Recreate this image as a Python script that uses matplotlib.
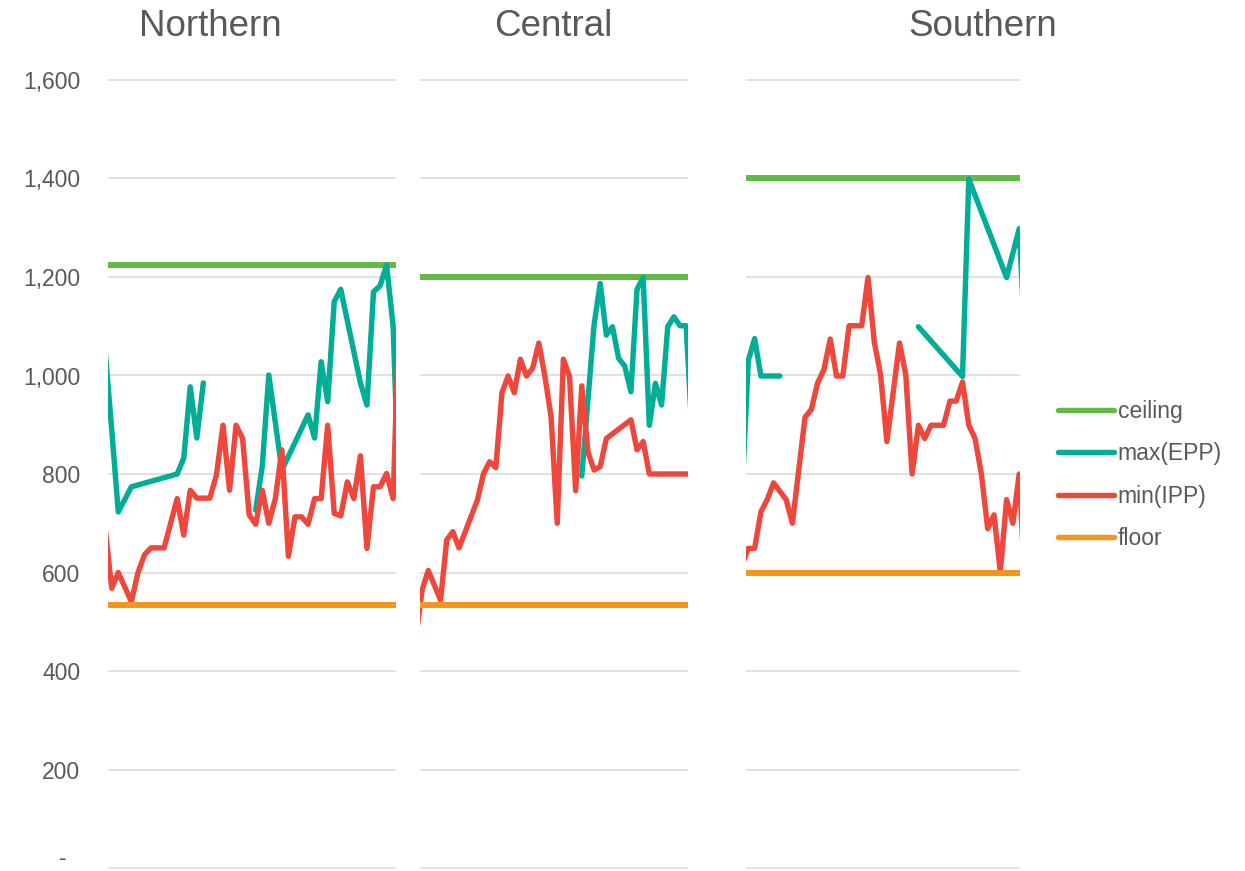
import matplotlib
matplotlib.use('Agg')
import matplotlib.pyplot as plt
import numpy as np
from matplotlib.lines import Line2D

plt.rcParams['font.family'] = ['Liberation Sans', 'DejaVu Sans']

nan = np.nan

# ---- data (x = day index within each region) ----
regions = ['Northern', 'Central', 'Southern']

ceiling = [1225, 1200, 1400]
floor = [533, 533, 600]

n_red_x = [-1, 0, 1, 3, 4, 5, 6, 8, 10, 11, 12, 13, 15, 16, 17, 18, 19, 20, 21, 22, 23,
           24, 25, 26, 27, 28, 29, 30, 31, 32, 33, 34, 35, 36, 37, 38, 39, 40, 41, 42, 43, 44]
n_red = [690, 568, 600, 541, 599, 636, 650, 650, 750, 676, 767, 751, 751, 798, 899, 767, 899,
         872, 717, 698, 767, 700, 750, 849, 633, 713, 713, 698, 750, 750, 899, 720, 715, 784,
         750, 837, 649, 774, 774, 801, 750, 1160]
n_teal_x = [-1, 0, 1, 3, 10, 11, 12, 13, 14, 18, 22, 23, 24, 26, 30, 31, 32, 33, 34, 35, 38,
            39, 40, 41, 42, 43, 44]
n_teal = [1050, 890, 723, 774, 800, 832, 977, 873, 985, nan, 727, 815, 1001, 808, 920, 873,
          1028, 947, 1150, 1175, 985, 940, 1170, 1182, 1224, 1100, 715]

c_red_x = [-2, -1, 0, 2, 3, 4, 5, 8, 9, 10, 11, 12, 13, 14, 15, 16, 17, 18, 19, 20, 21, 22,
           23, 24, 25, 26, 27, 28, 29, 33, 34, 35, 36, 43]
c_red = [470, 565, 604, 544, 666, 683, 650, 747, 801, 825, 813, 965, 999, 965, 1033, 999,
         1015, 1066, 998, 916, 700, 1033, 998, 766, 979, 845, 808, 815, 872, 910, 849, 866,
         800, 800]
c_teal_x = [25, 27, 28, 29, 30, 31, 32, 33, 34, 35, 36, 37, 38, 39, 40, 41, 42, 43]
c_teal = [796, 1103, 1187, 1082, 1099, 1035, 1019, 967, 1175, 1199, 899, 984, 940, 1099,
          1119, 1101, 1101, 870]

s_red_x = [-1, 0, 1, 2, 3, 4, 6, 7, 8, 9, 10, 11, 12, 13, 14, 15, 16, 18, 19, 20, 21, 22,
           24, 25, 26, 27, 28, 29, 31, 32, 33, 34, 35, 36, 37, 38, 39, 40, 41, 42, 43, 44]
s_red = [615, 649, 649, 723, 748, 782, 748, 700, 808, 915, 931, 985, 1012, 1074, 999, 999,
         1101, 1101, 1199, 1068, 1001, 866, 1066, 1001, 800, 899, 872, 899, 899, 948, 948,
         987, 899, 872, 800, 689, 717, 602, 748, 700, 800, 550]
s_teal_x = [-1, 0, 1, 2, 5, 16, 27, 34, 35, 41, 43, 44]
s_teal = [760, 1031, 1075, 999, 999, nan, 1099, 998, 1399, 1199, 1298, 1050]

red_x = [n_red_x, c_red_x, s_red_x]
red_y = [n_red, c_red, s_red]
teal_x = [n_teal_x, c_teal_x, s_teal_x]
teal_y = [n_teal, c_teal, s_teal]

xlims = [(-0.57, 43.44), (-1.35, 42.3), (-0.37, 43.13)]

yticks = [0, 200, 400, 600, 800, 1000, 1200, 1400, 1600]
ytick_labels = ['', '200', '400', '600', '800', '1,000', '1,200', '1,400', '1,600']
zero_label = '-'

series_names = ['ceiling', 'max(EPP)', 'min(IPP)', 'floor']
c_ceil = '#62b946'
c_teal_col = '#00ad96'
c_red_col = '#ef473b'
c_floor = '#f7941d'
grey = '#595959'

# ---- layout (pixels) ----
W, H = 1245, 871
panels_px = [(108, 396), (420, 688), (746, 1020)]
title_x = [210, 553, 983]
ylo, yhi = -6, 1610
k = (868 - 80) / 1600.0
bot_px = 868 + k * (0 - ylo)
top_px = 868 - k * yhi

fig = plt.figure(figsize=(W / 100, H / 100), dpi=100)

axes = []
for i in range(3):
    x0, x1 = panels_px[i]
    ax = fig.add_axes([x0 / W, (H - bot_px) / H, (x1 - x0) / W, (bot_px - top_px) / H])
    axes.append(ax)
    ax.set_xlim(*xlims[i])
    ax.set_ylim(ylo, yhi)
    ax.set_yticks(yticks)
    ax.grid(axis='y', color='#d9d9d9', lw=1.1, zorder=0)
    ax.set_axisbelow(True)
    for s in ax.spines.values():
        s.set_visible(False)
    ax.set_xticks([])
    if i == 0:
        ax.set_yticklabels(ytick_labels)
        ax.tick_params(axis='y', length=0, pad=20, labelsize=16.5, labelcolor=grey)
    else:
        ax.tick_params(axis='y', length=0, labelleft=False)

    ax.axhline(ceiling[i], color=c_ceil, lw=4.3, zorder=2)
    ax.plot(teal_x[i], teal_y[i], color=c_teal_col, lw=3.9,
            solid_capstyle='round', solid_joinstyle='round', zorder=3)
    ax.plot(red_x[i], red_y[i], color=c_red_col, lw=3.9,
            solid_capstyle='round', solid_joinstyle='round', zorder=4)
    ax.axhline(floor[i], color=c_floor, lw=4.3, zorder=5)

    fig.text(title_x[i] / W, 1 - 36.5 / H, regions[i], ha='center', va='baseline',
             fontsize=26.5, color=grey)

# zero label ("-") sits at the very bottom edge; keep it just inside the figure
fig.text(67 / W, 1 - 869.5 / H, zero_label, ha='right', va='bottom',
         fontsize=16.5, color=grey)

handles = [Line2D([], [], color=c, lw=3.9, solid_capstyle='round')
           for c in [c_ceil, c_teal_col, c_red_col, c_floor]]
fig.legend(handles, series_names, loc='center left',
           bbox_to_anchor=(1049 / W, 1 - 475 / H), frameon=False, fontsize=16.5,
           handlelength=2.45, handletextpad=0.15, labelspacing=0.85,
           labelcolor=grey, borderaxespad=0)

fig.savefig('out.png', dpi=100)
